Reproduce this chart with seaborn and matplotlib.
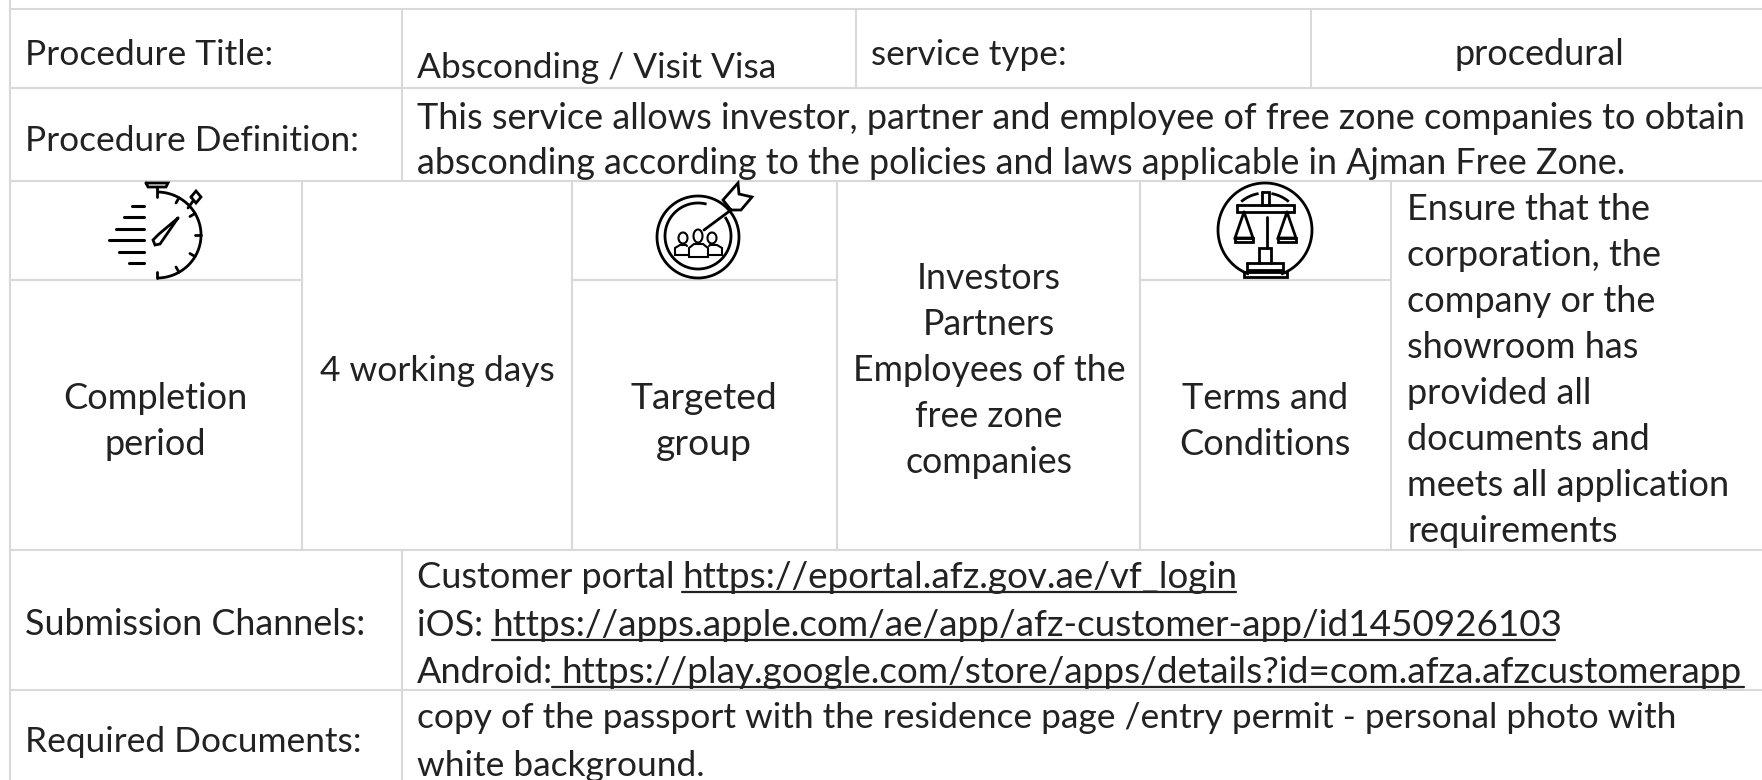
import numpy as np
import pandas as pd
import matplotlib
matplotlib.use("Agg")
import matplotlib.pyplot as plt
import seaborn as sns

row_labels = ["Procedure Title:", "Procedure Definition:", "Submission Channels:", "Required Documents:"]
title_value = "Absconding / Visit Visa"
service_label = "service type:"
service_value = "procedural"
definition_lines = ["This service allows investor, partner and employee of free zone companies to obtain",
                    "absconding according to the policies and laws applicable in Ajman Free Zone."]
completion_lines = ["Completion", "period"]
completion_value = "4 working days"
target_lines = ["Targeted", "group"]
target_values = ["Investors", "Partners", "Employees of the", "free zone", "companies"]
terms_lines = ["Terms and", "Conditions"]
terms_values = ["Ensure that the", "corporation, the", "company or the", "showroom has", "provided all",
                "documents and", "meets all application", "requirements"]
channel_prefix = ["Customer portal", "iOS:", "Android:"]
channel_urls = ["https://eportal.afz.gov.ae/vf_login",
                "https://apps.apple.com/ae/app/afz-customer-app/id1450926103",
                "https://play.google.com/store/apps/details?id=com.afza.afzcustomerapp"]
document_lines = ["copy of the passport with the residence page /entry permit - personal photo with",
                  "white background."]

sns.set_theme(style="white")
plt.rcParams['font.family'] = ['Lato', 'DejaVu Sans']

W, H = 1762, 780
INK = "#222222"
GRID = "#d9d9d9"

fig = plt.figure(figsize=(W / 100, H / 100), dpi=100, facecolor="white")
ax = fig.add_axes([0, 0, 1, 1])

# table borders, one row per end of a segment
segs = [(10, 9, 1762, 9), (10, 88, 1762, 88), (10, 181, 1762, 181), (10, 280, 302, 280), (572, 280, 837, 280),
        (1140, 280, 1391, 280), (10, 550, 1762, 550), (10, 690, 1762, 690), (10, 0, 10, 780),
        (402, 9, 402, 181), (856, 9, 856, 88), (1311, 9, 1311, 88), (302, 181, 302, 550), (572, 181, 572, 550),
        (837, 181, 837, 550), (1140, 181, 1140, 550), (1391, 181, 1391, 550), (402, 550, 402, 780)]
rows = []
for i, (x0, y0, x1, y1) in enumerate(segs):
    rows.append({"seg": i, "x": x0, "y": y0})
    rows.append({"seg": i, "x": x1, "y": y1})
borders = pd.DataFrame(rows)
sns.lineplot(data=borders, x="x", y="y", units="seg", estimator=None, sort=False,
             color=GRID, linewidth=1.5, ax=ax, legend=False, zorder=3)


def put(x, y, s, ha="left", fs=26):
    ax.text(x, y + 1, s, ha=ha, va="baseline", fontsize=fs, color=INK, zorder=2)


put(25, 64, row_labels[0], fs=25.5)
put(25, 150, row_labels[1], fs=25.4)
put(25, 634, row_labels[2], fs=25.8)
put(25, 751, row_labels[3], fs=25.4)
put(417, 77, title_value, fs=25.5)
put(871, 64, service_label, fs=25.3)
put(1539, 64, service_value, ha="center")
for y, s, fs in zip([128, 173], definition_lines, [26, 25.8]):
    put(417, y, s, fs=fs)
# keep descenders of the second row from running into the icons row
ax.fill_between([10, W], 181, 190, color="white", lw=0, zorder=2.5)

for y, s in zip([408, 454], completion_lines):
    put(155, y, s, ha="center")
put(437, 380, completion_value, ha="center", fs=25.5)
for y, s in zip([408, 454], target_lines):
    put(704, y, s, ha="center", fs=26.8)
for y, s in zip([288, 334, 380, 426, 472], target_values):
    put(989, y, s, ha="center", fs=25.7)
for y, s in zip([408, 454], terms_lines):
    put(1265, y, s, ha="center")
for y, s in zip([219, 265, 311, 357, 403, 449, 495, 541], terms_values):
    put(1407, y, s)

for y, s in zip([587, 635, 682], channel_prefix):
    put(417, y, s)
url_spans = [(682, 1236), (492, 1555), (552, 1744)]
url_x = [682, 492, 561]
for y, s, x, (u0, u1) in zip([587, 635, 682], channel_urls, url_x, url_spans):
    put(x, y, s, fs=26.6)
    ax.plot([u0, u1], [y + 5, y + 5], color=INK, lw=1.6, zorder=2)
for y, s, fs in zip([727, 775], document_lines, [25.5, 25.5]):
    put(417, y, s, fs=fs)


# icons
def ell(cx, cy, rx, ry, a0=0, a1=360, lw=2.0):
    t = np.radians(np.linspace(a0, a1, 120))
    ax.plot(cx + rx * np.cos(t), cy + ry * np.sin(t), color="#000000", lw=lw, zorder=4, solid_capstyle="butt")


def seg(xs, ys, lw=2.0):
    ax.plot(xs, ys, color="#000000", lw=lw, zorder=4, solid_joinstyle="miter")


# stopwatch
ell(157, 235, 44, 43, -90, 90)
seg([146, 168, 166, 148, 146], [183, 183, 187, 187, 183])
seg([157, 157], [187, 197])
seg([191, 196, 201, 196, 191], [197, 191, 197, 203, 197])
seg([188, 193], [208, 201])
for a in [-60, -30, 0, 30, 60]:
    r = np.radians(a)
    seg([157 + 44 * np.cos(r), 157 + 38 * np.cos(r)], [235 + 43 * np.sin(r), 235 + 37 * np.sin(r)])
seg([157, 157], [272, 278])
for y, x0 in zip([206, 217, 229, 240, 252, 263], [132, 124, 116, 109, 119, 129]):
    seg([x0, 143.5], [y, y], lw=2.2)
seg([178, 159, 153, 155, 160, 178], [218, 234, 240, 245, 244, 218])

# target with arrow and people
ell(698, 237, 41, 41, -50, 310)
ell(698, 236, 33, 33, -35, 285)
seg([704, 731], [230, 210])
seg([731, 723, 738, 739, 752, 741, 731], [210, 200, 183, 194, 197, 210, 210])
for cx, cy, ry in zip([683, 698, 712], [238, 236, 238], [5.5, 6.5, 5.5]):
    ell(cx, cy, 4.5, ry, lw=1.5)
seg([675, 675, 680, 686, 687], [255, 248, 245, 245, 246], lw=1.5)
seg([722, 722, 717, 710, 709], [255, 248, 245, 245, 246], lw=1.5)
seg([675, 689], [255, 255], lw=1.5)
seg([708, 722], [255, 255], lw=1.5)
seg([689, 689, 694, 703, 708, 708, 689], [257, 248, 244, 244, 248, 257, 257], lw=1.5)

# scales in a circle
ell(1265, 230, 47, 47, 110, 430)
ell(1265, 230, 37, 37, -130, -100)
ell(1265, 230, 37, 37, -80, -50)
seg([1237, 1294, 1294, 1237, 1237], [205, 205, 212, 212, 205])
seg([1262, 1269, 1269, 1262, 1262], [192, 192, 205, 205, 192])
seg([1267, 1267], [217, 248])
for cx in [1244, 1287]:
    seg([cx, cx - 9, cx + 9, cx], [212, 238, 238, 212])
    seg([cx - 9, cx - 9, cx + 9, cx + 9, cx - 9], [238, 242, 242, 238, 238])
seg([1259, 1259, 1271, 1271], [263, 248, 248, 263])
seg([1247, 1283, 1283, 1247, 1247], [263, 263, 270, 270, 263])
seg([1244, 1287, 1287, 1244, 1244], [272, 272, 277, 277, 272])

ax.set_xlim(0, W)
ax.set_ylim(H, 0)
ax.axis("off")
fig.savefig("out.png", dpi=100, facecolor="white")
